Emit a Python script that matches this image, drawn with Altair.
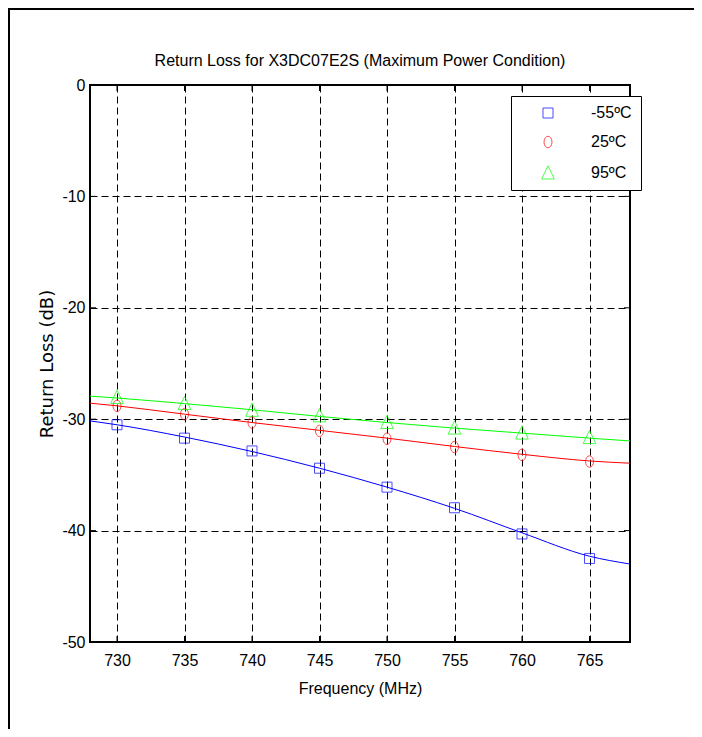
import altair as alt
import pandas as pd

# ---- data ----
series = ["-55ºC", "25ºC", "95ºC"]
colors = ["#0000ff", "#ff0000", "#00ff00"]

freq = [730, 735, 740, 745, 750, 755, 760, 765]
m55 = [-30.5, -31.7, -32.85, -34.4, -36.1, -37.95, -40.3, -42.5]
p25 = [-28.8, -29.55, -30.3, -31.05, -31.75, -32.5, -33.2, -33.8]
p95 = [-28.05, -28.6, -29.2, -29.7, -30.3, -30.8, -31.25, -31.65]

fit_freq = [728, 730, 735, 740, 745, 750, 755, 760, 765, 768]
m55_fit = [-30.15, -30.5, -31.6, -32.9, -34.4, -36.1, -38.0, -40.2, -42.3, -43.0]
p25_fit = [-28.56, -28.8, -29.55, -30.3, -31.0, -31.7, -32.45, -33.15, -33.75, -33.95]
p95_fit = [-27.93, -28.1, -28.6, -29.15, -29.75, -30.3, -30.8, -31.25, -31.7, -31.95]

x_ticks = [730, 735, 740, 745, 750, 755, 760, 765]
y_ticks = [-50, -40, -30, -20, -10, 0]

pts = pd.DataFrame(
    [{"s": s, "f": f, "v": v} for s, vals in zip(series, [m55, p25, p95]) for f, v in zip(freq, vals)]
)
fit = pd.DataFrame(
    [{"curve": s, "f": f, "v": v} for s, vals in zip(series, [m55_fit, p25_fit, p95_fit]) for f, v in zip(fit_freq, vals)]
)
xt = pd.DataFrame({"f": x_ticks})
yt = pd.DataFrame({"v": y_ticks})
one = pd.DataFrame({"a": [0]})

FONT = "Liberation Sans"
W, H = 540, 557

SQUARE = "M-1,-1L1,-1L1,1L-1,1Z"
ELLIPSE = ("M0,-1.15C0.442,-1.15 0.8,-0.635 0.8,0C0.8,0.635 0.442,1.15 0,1.15"
           "C-0.442,1.15 -0.8,0.635 -0.8,0C-0.8,-0.635 -0.442,-1.15 0,-1.15Z")
TRIANGLE = "M0,-1.45L1.27,1.2L-1.27,1.2Z"

xscale = alt.Scale(domain=[728, 768], nice=False, zero=False)
yscale = alt.Scale(domain=[-50, 0], nice=False, zero=False)
cscale = alt.Scale(domain=series, range=colors)
# stroke scale for the fitted curves: domain comes from the data (same sorted order)
sscale = alt.Scale(range=colors)
shscale = alt.Scale(domain=series, range=[SQUARE, ELLIPSE, TRIANGLE])

xaxis = alt.Axis(values=x_ticks, title="Frequency (MHz)", grid=True, domain=False, ticks=False,
                 labelPadding=10, titleY=51, titleBaseline="alphabetic")
yaxis = alt.Axis(values=y_ticks, title="Return Loss (dB)", grid=True, domain=False, ticks=False,
                 labelPadding=5, labelExpr="'' + datum.value",
                 titleX=-43, titleY=H / 2, titleAngle=270, titleAlign="center",
                 titleBaseline="middle", titleFont="DejaVu Sans", titleFontSize=18)

X = alt.X("f:Q", scale=xscale, axis=xaxis)
Y = alt.Y("v:Q", scale=yscale, axis=yaxis)

lines = alt.Chart(fit).mark_line(strokeWidth=1, interpolate="monotone").encode(
    x=X, y=Y,
    stroke=alt.Stroke("curve:N", scale=sscale, legend=None),
)

points = alt.Chart(pts).mark_point(filled=False, size=100, strokeWidth=1).encode(
    x=X, y=Y,
    color=alt.Color("s:N", scale=cscale, legend=alt.Legend(title=None)),
    shape=alt.Shape("s:N", scale=shscale, legend=alt.Legend(title=None)),
)

tick_b = alt.Chart(xt).mark_rule(color="black", strokeWidth=1).encode(
    x=X, y=alt.value(H - 6), y2=alt.value(H))
tick_t = alt.Chart(xt).mark_rule(color="black", strokeWidth=1).encode(
    x=X, y=alt.value(0), y2=alt.value(6))
tick_l = alt.Chart(yt).mark_rule(color="black", strokeWidth=1).encode(
    y=Y, x=alt.value(0), x2=alt.value(6))
tick_r = alt.Chart(yt).mark_rule(color="black", strokeWidth=1).encode(
    y=Y, x=alt.value(W - 6), x2=alt.value(W))

frame_top = alt.Chart(one).mark_rule(color="black", strokeWidth=2).encode(
    x=alt.value(-82), x2=alt.value(W + 80), y=alt.value(-76))
frame_left = alt.Chart(one).mark_rule(color="black", strokeWidth=2).encode(
    x=alt.value(-81), y=alt.value(-76), y2=alt.value(H + 87))

chart = alt.layer(lines, points, tick_b, tick_t, tick_l, tick_r, frame_top, frame_left).properties(
    width=W,
    height=H,
    autosize=alt.AutoSizeParams(type="none"),
    padding={"left": 82, "top": 77, "right": 64, "bottom": 87},
    title=alt.TitleParams(
        text="Return Loss for X3DC07E2S (Maximum Power Condition)",
        font=FONT, fontSize=16, fontWeight="normal", color="black",
        anchor="middle", frame="group", offset=-61,
    ),
    background="white",
).configure_view(
    stroke="black", strokeWidth=2
).configure_axis(
    gridColor="black", gridOpacity=1, gridWidth=1, gridDash=[7, 4],
    labelFont=FONT, labelFontSize=16, labelColor="black",
    titleFont=FONT, titleFontSize=16, titleFontWeight="normal", titleColor="black",
).configure_legend(
    orient="none", legendX=421, legendY=11,
    strokeColor="black", fillColor="white", padding=9,
    labelFont=FONT, labelFontSize=16, labelColor="black",
    symbolSize=100, symbolStrokeWidth=1, symbolOffset=20, labelOffset=35,
    rowPadding=13,
)

chart.save("out.html", embed_options={"renderer": "svg", "actions": False})
